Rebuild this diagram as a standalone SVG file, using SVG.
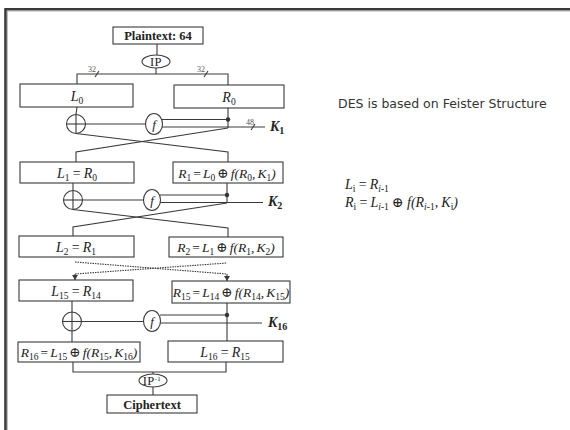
<svg xmlns="http://www.w3.org/2000/svg" width="570" height="430" viewBox="0 0 570 430">
<style>
.ln{stroke:#3a3a3a;stroke-width:1.1;fill:none}
.bx{stroke:#3a3a3a;stroke-width:1.1;fill:#fff}
.dot{stroke:#3a3a3a;stroke-width:1.1;fill:none;stroke-dasharray:1.5 1}
.t{font-family:"Liberation Serif","DejaVu Serif",serif;font-style:italic;font-size:14px;fill:#222;word-spacing:-0.3px}
.tt{font-size:13.5px;word-spacing:-1.3px}
.ip{font-family:"Liberation Serif","DejaVu Serif",serif;font-size:12.5px;fill:#222;letter-spacing:0.4px}
.b{font-family:"Liberation Serif","DejaVu Serif",serif;font-weight:bold;font-size:12.5px;fill:#222}
.k{font-family:"Liberation Serif","DejaVu Serif",serif;font-weight:bold;font-style:italic;font-size:14px;fill:#222}
.ks{font-size:10px;font-style:normal}
.n{font-style:normal}
.s{font-size:9.5px;font-style:normal}
.sm{font-family:"Liberation Serif","DejaVu Serif",serif;font-size:8px;fill:#555}
.sans{font-family:"DejaVu Sans",sans-serif;font-size:12.5px;fill:#333}
.f{font-family:"Liberation Serif","DejaVu Serif",serif;font-style:italic;font-size:13px;fill:#222}
</style>
<defs>
<marker id="ah" markerWidth="6" markerHeight="6" refX="5" refY="3" orient="auto" markerUnits="userSpaceOnUse">
<path d="M0,0 L5,3 L0,6 Z" fill="#3a3a3a"/>
</marker>
</defs>
<!-- frame -->
<path d="M5.5,430 V9.2 H570" fill="none" stroke="#3a3a3a" stroke-width="2.6"/>
<path d="M7.3,430 V11 H570" fill="none" stroke="#999" stroke-width="0.8"/>

<g id="connectors">
<line class="ln" x1="157" y1="44" x2="157" y2="55"/>
<line class="ln" x1="156" y1="68" x2="156" y2="74"/>
<polyline class="ln" points="77,84 77,74 228,74 228,85"/>
<line class="ln" x1="95" y1="77" x2="99" y2="71"/>
<line class="ln" x1="204" y1="77" x2="208" y2="71"/>
<text class="sm" x="88" y="72">32</text>
<text class="sm" x="197" y="72">32</text>
<!-- round 1 -->
<line class="ln" x1="77" y1="107" x2="76" y2="114.5"/>
<line class="ln" x1="85.5" y1="124" x2="145.5" y2="124"/>
<line class="ln" x1="162" y1="119.5" x2="228" y2="119.5"/>
<line class="ln" x1="162" y1="127" x2="265" y2="127"/>
<line class="ln" x1="251" y1="130" x2="255" y2="124"/>
<text class="sm" x="246" y="125">48</text>
<line class="ln" x1="228" y1="108" x2="228" y2="128"/>
<polyline class="ln" points="76,133.5 228,152 228,162"/>
<polyline class="ln" points="228,128 76,152 76,162"/>
<!-- round 2 -->
<line class="ln" x1="73" y1="183" x2="73" y2="190.5"/>
<line class="ln" x1="82.5" y1="200" x2="143.5" y2="200"/>
<line class="ln" x1="160" y1="195" x2="227" y2="195"/>
<line class="ln" x1="160" y1="202.5" x2="263" y2="202.5"/>
<line class="ln" x1="227" y1="183" x2="227" y2="203"/>
<polyline class="ln" points="73,209.5 228,228 228,237"/>
<polyline class="ln" points="227,203 73,227 73,236"/>
<!-- dotted -->
<line class="dot" x1="75" y1="262" x2="227" y2="274"/>
<line class="dot" x1="75" y1="274" x2="227" y2="263"/>
<line class="ln" x1="75" y1="274" x2="75" y2="280" marker-end="url(#ah)"/>
<line class="ln" x1="227" y1="274" x2="227" y2="281" marker-end="url(#ah)"/>
<!-- round 16 -->
<line class="ln" x1="72" y1="301" x2="72" y2="312"/>
<line class="ln" x1="81.5" y1="321.5" x2="143.5" y2="321.5"/>
<line class="ln" x1="160" y1="315" x2="227" y2="315"/>
<line class="ln" x1="160" y1="323" x2="262" y2="323"/>
<line class="ln" x1="227" y1="303" x2="227" y2="341"/>
<line class="ln" x1="72" y1="331" x2="72" y2="342"/>
<polyline class="ln" points="73,362 73,372 226,372 226,362"/>
<line class="ln" x1="153" y1="372" x2="153" y2="374"/>
<line class="ln" x1="153" y1="387" x2="153" y2="395"/>
</g>

<g id="plaintext"><rect class="bx" x="113" y="27" width="90" height="17"/><text class="b" x="158" y="40" text-anchor="middle">Plaintext: 64</text></g>
<g id="ip"><ellipse class="bx" cx="156" cy="61.5" rx="14" ry="6.5"/><text class="ip" x="156" y="66" text-anchor="middle">IP</text></g>
<g id="L0"><rect class="bx" x="20" y="84" width="113" height="23"/><text class="t" x="77" y="100.5" text-anchor="middle">L<tspan class="s" dy="3">0</tspan></text></g>
<g id="R0"><rect class="bx" x="174" y="85" width="110" height="23"/><text class="t" x="229" y="101.5" text-anchor="middle">R<tspan class="s" dy="3">0</tspan></text></g>
<g id="xor1"><circle class="ln" cx="76" cy="124" r="9.5"/><line class="ln" x1="76" y1="114.5" x2="76" y2="133.5"/><line class="ln" x1="66.5" y1="124" x2="85.5" y2="124"/></g>
<g id="f1"><ellipse class="bx" cx="154" cy="124" rx="8.5" ry="10.5"/><text class="f" x="154" y="128.5" text-anchor="middle">f</text></g>
<g id="dot1"><circle cx="228" cy="119.5" r="2.2" fill="#333"/></g>
<g id="K1"><text class="k" x="270" y="131">K<tspan class="ks" dy="3">1</tspan></text></g>

<g id="L1"><rect class="bx" x="20" y="162" width="114" height="21"/><text class="t" x="77" y="177.5" text-anchor="middle">L<tspan class="s" dy="3">1</tspan><tspan class="n" dy="-3"> = </tspan>R<tspan class="s" dy="3">0</tspan></text></g>
<g id="R1"><rect class="bx" x="173" y="162" width="110" height="21"/><text class="t tt" x="227" y="177.5" text-anchor="middle">R<tspan class="s" dy="3">1</tspan><tspan class="n" dy="-3"> = </tspan>L<tspan class="s" dy="3">0</tspan><tspan class="n" dy="-3"> ⊕ </tspan>f(R<tspan class="s" dy="3">0</tspan><tspan dy="-3">, K</tspan><tspan class="s" dy="3">1</tspan><tspan dy="-3">)</tspan></text></g>
<g id="xor2"><circle class="ln" cx="73" cy="200" r="9.5"/><line class="ln" x1="73" y1="190.5" x2="73" y2="209.5"/><line class="ln" x1="63.5" y1="200" x2="82.5" y2="200"/></g>
<g id="f2"><ellipse class="bx" cx="152" cy="200" rx="8.5" ry="10.5"/><text class="f" x="152" y="204.5" text-anchor="middle">f</text></g>
<g id="dot2"><circle cx="227" cy="195" r="2.2" fill="#333"/></g>
<g id="K2"><text class="k" x="268" y="206">K<tspan class="ks" dy="3">2</tspan></text></g>

<g id="L2"><rect class="bx" x="19" y="236" width="115" height="21"/><text class="t" x="76" y="251.5" text-anchor="middle">L<tspan class="s" dy="3">2</tspan><tspan class="n" dy="-3"> = </tspan>R<tspan class="s" dy="3">1</tspan></text></g>
<g id="R2"><rect class="bx" x="169" y="237" width="114" height="20"/><text class="t tt" x="226" y="252" text-anchor="middle">R<tspan class="s" dy="3">2</tspan><tspan class="n" dy="-3"> = </tspan>L<tspan class="s" dy="3">1</tspan><tspan class="n" dy="-3"> ⊕ </tspan>f(R<tspan class="s" dy="3">1</tspan><tspan dy="-3">, K</tspan><tspan class="s" dy="3">2</tspan><tspan dy="-3">)</tspan></text></g>

<g id="L15"><rect class="bx" x="19" y="280" width="114" height="21"/><text class="t" x="76" y="295.5" text-anchor="middle">L<tspan class="s" dy="3">15</tspan><tspan class="n" dy="-3"> = </tspan>R<tspan class="s" dy="3">14</tspan></text></g>
<g id="R15"><rect class="bx" x="172" y="281" width="118" height="22"/><text class="t tt" x="231" y="296.5" text-anchor="middle">R<tspan class="s" dy="3">15</tspan><tspan class="n" dy="-3"> = </tspan>L<tspan class="s" dy="3">14</tspan><tspan class="n" dy="-3"> ⊕ </tspan>f(R<tspan class="s" dy="3">14</tspan><tspan dy="-3">, K</tspan><tspan class="s" dy="3">15</tspan><tspan dy="-3">)</tspan></text></g>
<g id="xor16"><circle class="ln" cx="72" cy="321.5" r="9.5"/><line class="ln" x1="72" y1="312" x2="72" y2="331"/><line class="ln" x1="62.5" y1="321.5" x2="81.5" y2="321.5"/></g>
<g id="f16"><ellipse class="bx" cx="152" cy="321" rx="8.5" ry="10.5"/><text class="f" x="152" y="325.5" text-anchor="middle">f</text></g>
<g id="dot16"><circle cx="227" cy="315" r="2.2" fill="#333"/></g>
<g id="K16"><text class="k" x="268" y="327">K<tspan class="ks" dy="3">16</tspan></text></g>

<g id="R16"><rect class="bx" x="18" y="342" width="122" height="20"/><text class="t tt" x="79" y="357" text-anchor="middle">R<tspan class="s" dy="3">16</tspan><tspan class="n" dy="-3"> = </tspan>L<tspan class="s" dy="3">15</tspan><tspan class="n" dy="-3"> ⊕ </tspan>f(R<tspan class="s" dy="3">15</tspan><tspan dy="-3">, K</tspan><tspan class="s" dy="3">16</tspan><tspan dy="-3">)</tspan></text></g>
<g id="L16"><rect class="bx" x="168" y="341" width="115" height="21"/><text class="t" x="225" y="356.5" text-anchor="middle">L<tspan class="s" dy="3">16</tspan><tspan class="n" dy="-3"> = </tspan>R<tspan class="s" dy="3">15</tspan></text></g>
<g id="ipinv"><ellipse class="bx" cx="153" cy="380.5" rx="14" ry="6.5"/><text class="ip" x="152" y="385" text-anchor="middle">IP<tspan style="font-size:7px" dy="-4.5">-1</tspan></text></g>
<g id="ciphertext"><rect class="bx" x="107" y="395" width="90" height="18"/><text class="b" x="152" y="408.5" text-anchor="middle">Ciphertext</text></g>

<g id="notes">
<text class="sans" x="338" y="108">DES is based on Feister Structure</text>
<text class="t" x="345" y="189">L<tspan class="s" dy="3" font-style="italic">i</tspan><tspan class="n" dy="-3"> = </tspan>R<tspan class="s" dy="3"><tspan font-style="italic">i</tspan>-1</tspan></text>
<text class="t" x="345" y="207">R<tspan class="s" dy="3" font-style="italic">i</tspan><tspan class="n" dy="-3"> = </tspan>L<tspan class="s" dy="3"><tspan font-style="italic">i</tspan>-1</tspan><tspan class="n" dy="-3"> ⊕ </tspan>f(R<tspan class="s" dy="3"><tspan font-style="italic">i</tspan>-1</tspan><tspan dy="-3">, K</tspan><tspan class="s" dy="3" font-style="italic">i</tspan><tspan dy="-3">)</tspan></text>
</g>
</svg>
